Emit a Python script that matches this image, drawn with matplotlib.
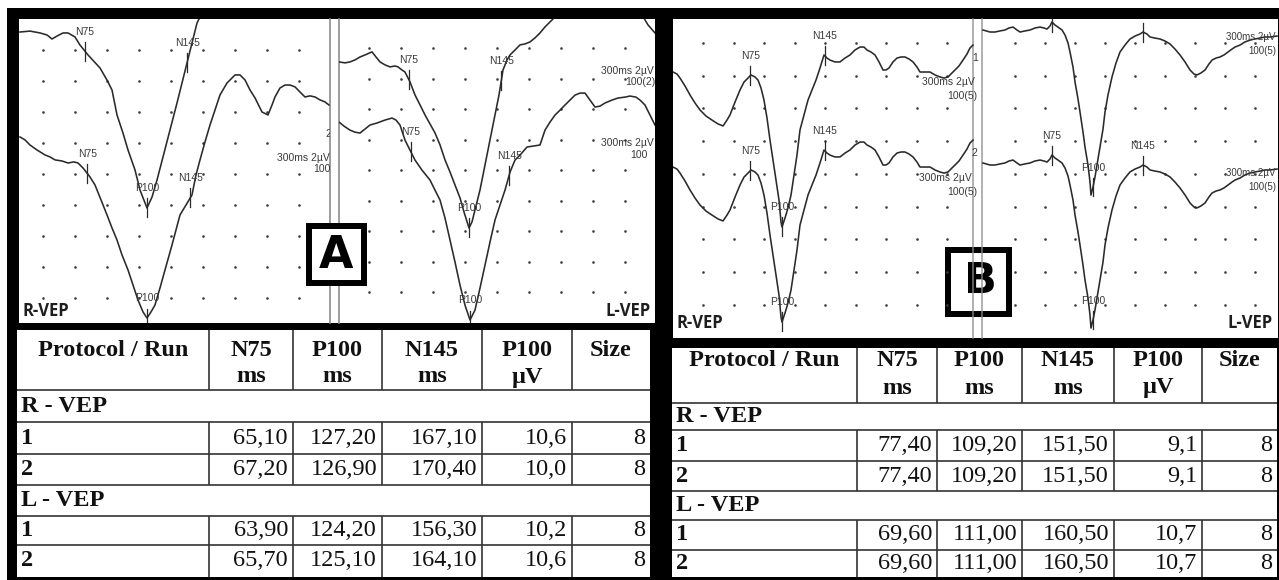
import numpy as np
import matplotlib
matplotlib.use("Agg")
import matplotlib.pyplot as plt
from matplotlib.patches import Rectangle

# ---------------- table data ----------------
col_titles = [("Protocol / Run", ""), ("N75", "ms"), ("P100", "ms"),
              ("N145", "ms"), ("P100", "µV"), ("Size", "")]
groups = ["R - VEP", "L - VEP"]
runs = ["1", "2"]
peak_names = ["N75", "P100", "N145"]

# order: R run1, R run2, L run1, L run2
a_n75 = [65.10, 67.20, 63.90, 65.70]
a_p100 = [127.20, 126.90, 124.20, 125.10]
a_n145 = [167.10, 170.40, 156.30, 164.10]
a_amp = [10.6, 10.0, 10.2, 10.6]
a_size = [8, 8, 8, 8]

b_n75 = [77.40, 77.40, 69.60, 69.60]
b_p100 = [109.20, 109.20, 111.00, 111.00]
b_n145 = [151.50, 151.50, 160.50, 160.50]
b_amp = [9.1, 9.1, 10.7, 10.7]
b_size = [8, 8, 8, 8]

# ---------------- waveforms: time (ms), amplitude (µV, positive downward) ----------------
a_r1_t = [0, 10, 20, 27, 32, 37, 43, 48, 55, 60, 68, 80, 87, 92, 97, 103, 108, 115, 120, 127,
          132, 137, 143, 150, 157, 162, 167, 172, 177, 180]
a_r1_v = [0, -0.06, 0.06, 0.19, 0.45, 0.26, 0.06, 0.06, 0.32, 0.84, 1.48, 2.32, 3.1, 3.74, 5.35,
          6.52, 7.61, 8.9, 10.19, 11.35, 10.65, 9.55, 8.06, 6.32, 4.58, 3.29, 2.0, 0.71, -0.58, -0.97]

a_r2_t = [0, 5, 10, 17, 25, 30, 35, 42, 48, 54, 58, 63, 70, 75, 81, 87, 92, 97, 102, 108,
          113, 118, 123, 127, 131, 135, 140, 145, 152, 160, 166, 172, 176, 180, 185, 190, 195, 200,
          207, 215, 220, 225, 230, 235, 242, 248, 252, 255, 260, 265, 270, 275, 280, 285, 290, 295,
          300, 305, 309]
a_r2_v = [0, 0.19, 0.52, 0.84, 1.16, 1.29, 1.48, 1.55, 1.68, 1.61, 1.68, 2.0, 2.58, 3.1, 4.06,
          5.03, 5.87, 6.65, 7.61, 8.58, 9.55, 10.52, 11.29, 11.68, 11.29, 10.84, 9.74, 8.58, 6.97,
          5.03, 4.39, 3.74, 2.45, 1.48, 0.32, -0.77, -1.74, -2.71, -3.48, -4.0, -4.0, -3.68, -3.03,
          -2.52, -1.61, -1.42, -2.06, -2.58, -3.16, -3.35, -3.35, -3.23, -2.9, -2.58, -2.65, -2.58,
          -2.39, -2.26, -2.06]

a_l1_t = [-6, 0, 5, 10, 15, 20, 27, 31, 35, 40, 45, 50, 53, 57, 60, 65, 70, 75, 80, 85,
          90, 95, 100, 105, 110, 115, 119, 124, 127, 130, 135, 140, 145, 150, 154, 158, 162, 165,
          170, 175, 180, 185, 190, 195, 200, 205, 210, 220, 235, 255, 275, 290, 297, 303, 310]
a_l1_v = [0, 0.06, 0, -0.13, -0.32, -0.45, -0.65, -0.32, 0, 0.19, 0.32, 0.26, 0.32, 0.52, 0.65,
          1.29, 2.13, 2.77, 3.42, 4.0, 4.58, 5.35, 6.32, 7.1, 7.94, 8.77, 9.68, 10.71, 10.32, 9.55,
          8.26, 6.65, 5.03, 3.42, 2.13, 0.52, -0.13, -0.45, -0.77, -1.1, -1.16, -1.29, -1.55, -1.87,
          -2.26, -2.58, -2.9, -3.48, -3.87, -4.0, -4.0, -3.68, -3.03, -2.39, -1.87]

a_l2_t = [-6, -1, 5, 10, 15, 20, 25, 32, 40, 47, 51, 55, 60, 65, 70, 77, 85, 90, 95, 100,
          105, 110, 115, 120, 125, 130, 135, 140, 145, 150, 155, 160, 165, 170, 175, 182, 188, 195,
          200, 205, 210, 215, 220, 225, 230, 235, 240, 245, 250, 255, 260, 267, 273, 280, 285, 291,
          295, 300, 305, 310]
a_l2_v = [0, 0.26, 0.52, 0.65, 0.71, 0.45, 0.19, 0.06, -0.13, -0.26, -0.13, 0.19, 1.16, 1.81,
          2.45, 3.1, 3.74, 4.39, 5.03, 6.19, 7.61, 9.03, 10.52, 11.81, 12.77, 12.13, 10.71, 9.23,
          7.74, 6.32, 5.35, 4.39, 3.23, 2.45, 2.13, 1.61, 1.55, 1.48, 0.52, 0, -0.45, -0.77, -1.1,
          -1.42, -1.74, -1.87, -1.87, -1.42, -0.97, -1.03, -1.23, -1.42, -1.55, -1.61, -1.68, -1.61,
          -1.42, -1.1, -0.45, 0.19]

b_r_t = [0, 4, 7, 12, 17, 22, 27, 33, 39, 45, 50, 54, 57, 62, 67, 71, 75, 78, 82, 85,
         88, 91, 94, 97, 100, 103, 106, 108, 109, 112, 115, 118, 121, 124, 127, 131, 135, 139,
         143, 147, 151, 154, 157, 162, 167, 172, 177, 182, 187, 191, 194, 198, 202, 206, 210, 213,
         216, 220, 224, 228, 232, 236, 240, 244, 247, 252, 257, 262, 267, 271, 275, 279, 282, 286,
         290, 294, 297, 300]
b_r_v = [0, 0.13, 0.39, 0.9, 1.48, 2.0, 2.45, 2.84, 3.1, 3.35, 3.48, 3.1, 2.77, 1.94, 1.16,
         0.65, 0.39, 0.19, 0.32, 0.52, 1.03, 1.81, 2.97, 4.39, 5.68, 6.97, 8.26, 9.68, 10.0, 9.42,
         8.77, 7.94, 6.65, 5.35, 3.74, 2.77, 1.81, 1.16, 0.52, -0.26, -1.1, -0.9, -0.77, -0.65,
         -0.65, -0.9, -1.1, -1.42, -1.61, -1.61, -1.42, -1.29, -1.1, -0.65, -0.13, -0.13, -0.26,
         -0.65, -0.9, -0.97, -0.97, -0.84, -0.65, -0.32, 0, 0, 0, 0.19, 0.32, 0.39, 0.32, 0.06,
         -0.13, -0.39, -0.77, -1.16, -1.55, -1.74]

b_l_t = [1, 8, 13, 18, 23, 27, 31, 35, 38, 43, 48, 53, 58, 62, 65, 68, 70, 73, 76, 80,
         83, 86, 88, 91, 93, 96, 98, 101, 103, 106, 108, 109, 111, 113, 116, 118, 121, 123, 126,
         130, 134, 138, 143, 148, 153, 158, 161, 165, 168, 173, 178, 183, 188, 193, 198, 203, 208,
         212, 215, 219, 223, 227, 230, 234, 238, 242, 246, 250, 253, 258, 263, 268, 273, 278, 283,
         288, 295]
b_l_v = [0, 0.13, 0.13, 0.06, 0, -0.13, -0.19, 0, 0.13, 0.06, 0, -0.13, -0.19, -0.13, -0.06,
         -0.26, -0.52, -0.32, -0.19, 0, 0.32, 0.84, 1.42, 2.39, 3.35, 4.45, 5.29, 6.58, 7.55, 8.71,
         9.81, 10.65, 10.13, 9.48, 8.32, 7.55, 6.39, 5.29, 4.19, 3.03, 2.13, 1.42, 0.97, 0.58, 0.39,
         0.26, 0.13, 0.26, 0.45, 0.52, 0.58, 0.71, 0.9, 1.23, 1.61, 2.06, 2.58, 2.84, 2.9, 2.77,
         2.58, 2.19, 1.94, 1.81, 1.74, 1.61, 1.42, 1.23, 1.1, 0.97, 0.77, 0.65, 0.58, 0.52, 0.45,
         0.45, 0.39]

# ---------------- layout ----------------
W, H = 1279, 580
PX_PER_UV = 15.5
TRACE_C = "#2a2a2a"
SERIF = "Liberation Serif"
SANS = "Liberation Sans"
TFS = 17.5

fig = plt.figure(figsize=(W / 100, H / 100), dpi=100, facecolor="black")
canvas = fig.add_axes([0, 0, 1, 1])
canvas.set_xlim(0, W)
canvas.set_ylim(H, 0)
canvas.axis("off")


def rect(x0, y0, x1, y1, **kw):
    canvas.add_patch(Rectangle((x0, y0), x1 - x0, y1 - y0, **kw))


# white margins and panels
rect(0, 0, W, 8, fc="white", ec="none")
rect(0, 0, 7, H, fc="white", ec="none")
rect(19, 19, 655, 323, fc="white", ec="none")
rect(673, 19, 1278, 338, fc="white", ec="none")
rect(17, 330, 650, 577, fc="white", ec="none")
rect(672, 348, 1277, 577, fc="white", ec="none")


def half_ax(px0, px1, py0, py1, origin):
    ax = fig.add_axes([px0 / W, 1 - py1 / H, (px1 - px0) / W, (py1 - py0) / H])
    ax.set_xlim(px0 - origin, px1 - origin)
    ax.set_ylim((py1 - py0) / PX_PER_UV, 0)
    ax.axis("off")
    return ax


def dots(ax, t0, dt, v0, dv):
    tt, vv = np.meshgrid(t0 + dt * np.arange(9), v0 + dv * np.arange(9))
    ax.scatter(tt.ravel(), vv.ravel(), s=3.5, c="#3a3a3a", lw=0, zorder=1)


def trace(ax, t, v, offset, lats):
    t = np.asarray(t, float)
    v = np.asarray(v, float) + offset
    ax.plot(t, v, color=TRACE_C, lw=1.15, zorder=3)
    for lat, name in zip(lats, peak_names):
        vv = np.interp(lat, t, v)
        ax.plot([lat, lat], [vv - 0.6, vv + 0.6], color=TRACE_C, lw=0.9, zorder=3)
        ax.text(lat, vv - 1.25, name, fontsize=7.5, family=SANS, color="#3a3a3a",
                ha="center", va="center", clip_on=True, zorder=4)


def note(ax, x, y, s, ha="left", fs=7.5):
    ax.text(x, y, s, transform=canvas.transData, fontsize=fs, family=SANS,
            color="#3a3a3a", ha=ha, va="center", clip_on=True, zorder=4)


# ---- panel A ----
axAL = half_ax(19, 330, 19, 323, 20)
dots(axAL, 23, 32, 2.0, 2.0)
trace(axAL, a_r1_t, a_r1_v, 0.84, (a_n75[0], a_p100[0], a_n145[0]))
trace(axAL, a_r2_t, a_r2_v, 7.61, (a_n75[1], a_p100[1], a_n145[1]))
note(axAL, 325, 134, "2")
note(axAL, 277, 158, "300ms 2µV")
note(axAL, 313, 169, "100")

axAR = half_ax(339, 655, 19, 323, 345)
dots(axAR, 24, 32, 1.87, 1.97)
trace(axAR, a_l1_t, a_l1_v, 2.77, (a_n75[2], a_p100[2], a_n145[2]))
trace(axAR, a_l2_t, a_l2_v, 6.65, (a_n75[3], a_p100[3], a_n145[3]))
note(axAR, 601, 71, "300ms 2µV")
note(axAR, 625, 82, "100(2)")
note(axAR, 601, 143, "300ms 2µV")
note(axAR, 630, 155, "100")

for x in (330, 339):
    canvas.plot([x, x], [19, 323], color="#8c8c8c", lw=1.2, zorder=2)

# ---- panel B ----
axBL = half_ax(673, 982, 19, 338, 673)
dots(axBL, 30, 30.5, 1.55, 2.11)
trace(axBL, b_r_t, b_r_v, 3.42, (b_n75[0], b_p100[0], b_n145[0]))
trace(axBL, b_r_t, b_r_v, 9.55, (b_n75[1], b_p100[1], b_n145[1]))
note(axBL, 922, 82, "300ms 2µV")
note(axBL, 947, 96, "100(5)")
note(axBL, 919, 178, "300ms 2µV")
note(axBL, 947, 192, "100(5)")
note(axBL, 975, 58, "1", ha="center")
note(axBL, 974, 153, "2", ha="center")

axBR = half_ax(982, 1278, 19, 338, 982)
dots(axBR, 33, 30, 1.55, 2.11)
trace(axBR, b_l_t, b_l_v, 0.71, (b_n75[2], b_p100[2], b_n145[2]))
trace(axBR, b_l_t, b_l_v, 9.29, (b_n75[3], b_p100[3], b_n145[3]))
note(axBR, 1276, 37, "300ms 2µV", ha="right", fs=7)
note(axBR, 1276, 51, "100(5)", ha="right", fs=7)
note(axBR, 1276, 173, "300ms 2µV", ha="right", fs=7)
note(axBR, 1276, 187, "100(5)", ha="right", fs=7)

# channel labels
lab = dict(fontsize=12, fontweight="bold", family="Open Sans", color="#1e1e1e", va="center")
canvas.text(22, 311, "R-VEP", ha="left", **lab)
canvas.text(651, 311, "L-VEP", ha="right", **lab)
canvas.text(676, 323, "R-VEP", ha="left", **lab)
canvas.text(1273, 323, "L-VEP", ha="right", **lab)

# letter boxes
rect(309, 226, 364, 283, fc="white", ec="black", lw=4.3, zorder=5)
canvas.text(336, 256, "A", fontsize=32, fontweight="bold", family="DejaVu Sans",
            ha="center", va="center", zorder=6)
rect(948, 250, 1009, 314, fc="white", ec="black", lw=4.3, zorder=5)
canvas.text(980, 281, "B", fontsize=31, fontweight="bold", family="DejaVu Sans",
            ha="center", va="center", zorder=6)
for x in (973, 982):
    canvas.plot([x, x], [19, 338], color="#8c8c8c", lw=1.2, zorder=7, alpha=0.8)


# ---- tables ----
def fmt(v, nd):
    return f"{v:.{nd}f}".replace(".", ",")


def draw_table(xe, ye, head_y, n75, p100, n145, amp, size):
    lk = dict(color="#333333", lw=1.2, zorder=3, solid_capstyle="butt")
    for y in ye[1:-1]:
        canvas.plot([xe[0], xe[-1]], [y, y], **lk)
    for r in (0, 2, 3, 5, 6):
        for x in xe[1:-1]:
            canvas.plot([x, x], [ye[r], ye[r + 1]], **lk)
    # header
    for i, (l1, l2) in enumerate(col_titles):
        cx = 0.5 * (xe[i] + xe[i + 1])
        canvas.text(cx, head_y[0], l1, family=SERIF, fontweight="bold", fontsize=TFS,
                    ha="center", va="center", color="#111")
        if l2:
            canvas.text(cx, head_y[1], l2, family=SERIF, fontweight="bold", fontsize=TFS,
                        ha="center", va="center", color="#111")
    cols = [n75, p100, n145, amp, size]
    nds = [2, 2, 2, 1, 0]
    k = 0
    for g, grp in enumerate(groups):
        gr = 1 + 3 * g
        canvas.text(xe[0] + 4, 0.5 * (ye[gr] + ye[gr + 1]), grp, family=SERIF,
                    fontweight="bold", fontsize=TFS, ha="left", va="center", color="#111")
        for j, run in enumerate(runs):
            r = gr + 1 + j
            cy = 0.5 * (ye[r] + ye[r + 1])
            canvas.text(xe[0] + 4, cy, run, family=SERIF, fontweight="bold", fontsize=TFS,
                        ha="left", va="center", color="#111")
            for c, (vals, nd) in enumerate(zip(cols, nds)):
                canvas.text(xe[c + 2] - 5, cy, fmt(vals[k], nd), family=SERIF, fontsize=TFS,
                            ha="right", va="center", color="#111")
            k += 1


draw_table([17, 209, 293, 382, 482, 572, 650],
           [330, 390, 422, 454, 485, 516, 545, 577], (350, 377),
           a_n75, a_p100, a_n145, a_amp, a_size)
draw_table([672, 857, 937, 1022, 1114, 1202, 1277],
           [348, 403, 430, 461, 491, 520, 550, 577], (360, 388),
           b_n75, b_p100, b_n145, b_amp, b_size)

fig.savefig("out.png", dpi=100, facecolor="black")
